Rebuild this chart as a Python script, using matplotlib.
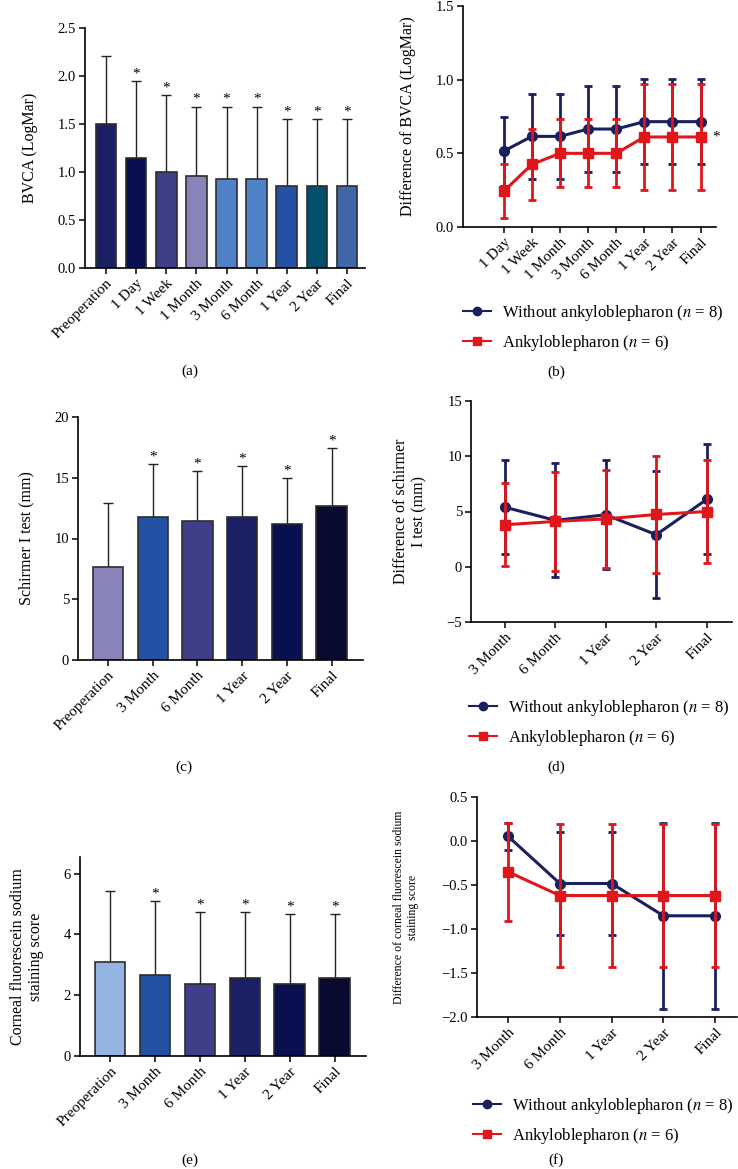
import numpy as np
import matplotlib
matplotlib.use('Agg')
import matplotlib.pyplot as plt
from matplotlib.lines import Line2D

plt.rcParams['font.family'] = ['Liberation Serif', 'DejaVu Serif']
plt.rcParams['mathtext.fontset'] = 'stix'

# ---- data ----
bvca_labels = ['Preoperation', '1 Day', '1 Week', '1 Month', '3 Month',
               '6 Month', '1 Year', '2 Year', 'Final']
bvca_mean = [1.50, 1.15, 1.00, 0.96, 0.93, 0.93, 0.85, 0.85, 0.85]
bvca_top = [2.21, 1.95, 1.80, 1.68, 1.68, 1.68, 1.55, 1.55, 1.55]
bvca_star = [False, True, True, True, True, True, True, True, True]

diff_bvca_labels = ['1 Day', '1 Week', '1 Month', '3 Month', '6 Month',
                    '1 Year', '2 Year', 'Final']
diff_bvca_blue = [0.515, 0.615, 0.615, 0.665, 0.665, 0.715, 0.715, 0.715]
diff_bvca_blue_sd = [0.235, 0.29, 0.29, 0.29, 0.29, 0.29, 0.29, 0.29]
diff_bvca_red = [0.243, 0.425, 0.50, 0.50, 0.50, 0.611, 0.611, 0.611]
diff_bvca_red_sd = [0.185, 0.24, 0.23, 0.23, 0.23, 0.357, 0.357, 0.357]

later_labels = ['Preoperation', '3 Month', '6 Month', '1 Year', '2 Year', 'Final']
schirmer_mean = [7.67, 11.8, 11.45, 11.8, 11.2, 12.7]
schirmer_top = [12.9, 16.15, 15.55, 15.95, 14.95, 17.45]
schirmer_star = [False, True, True, True, True, True]

diff_labels = ['3 Month', '6 Month', '1 Year', '2 Year', 'Final']
diff_sch_blue = [5.39, 4.2, 4.7, 2.9, 6.1]
diff_sch_blue_sd = [4.27, 5.15, 4.92, 5.75, 4.99]
diff_sch_red = [3.8, 4.1, 4.33, 4.73, 5.0]
diff_sch_red_sd = [3.77, 4.45, 4.43, 5.27, 4.7]

stain_mean = [3.08, 2.67, 2.37, 2.56, 2.37, 2.56]
stain_top = [5.42, 5.11, 4.74, 4.74, 4.68, 4.68]
stain_star = [False, True, True, True, True, True]

diff_st_blue = [0.053, -0.483, -0.483, -0.85, -0.85]
diff_st_blue_sd = [0.15, 0.59, 0.59, 1.06, 1.06]
diff_st_red = [-0.35, -0.62, -0.62, -0.62, -0.62]
diff_st_red_sd = [0.56, 0.81, 0.81, 0.81, 0.81]

# ---- styles ----
bvca_colors = ['#1b1f63', '#08104f', '#3e3f88', '#8883b9', '#4f82c6',
               '#4f82c6', '#2451a3', '#03506e', '#4068a8']
schirmer_colors = ['#8883b9', '#2451a3', '#3e3f88', '#1b1f63', '#08104f', '#080a30']
stain_colors = ['#94b5e0', '#2451a3', '#3e3f88', '#1b1f63', '#08104f', '#080a30']
BLUE = '#1a1f5e'
RED = '#e0161b'
W, H = 738, 1169

fig = plt.figure(figsize=(W / 100, H / 100), dpi=100)


def add_ax(left, right, top, bottom):
    return fig.add_axes([left / W, 1 - bottom / H, (right - left) / W, (bottom - top) / H])


def style(ax):
    for s in ['top', 'right']:
        ax.spines[s].set_visible(False)
    for s in ['left', 'bottom']:
        ax.spines[s].set_linewidth(1.2)
    ax.tick_params(direction='out', length=4, width=1.1, labelsize=10.5, pad=2.5)
    ax.tick_params(axis='x', labelsize=11)


def bar_panel(ax, labels, mean, top, star, colors, xlim, ylim, yticks, ylabel, ylsize=11.5, lp=14):
    x = np.arange(len(labels))
    err = np.array(top) - np.array(mean)
    ax.bar(x, mean, width=0.68, color=colors, edgecolor='#2e2e2e', linewidth=1.2, zorder=2)
    ax.errorbar(x, mean, yerr=[np.zeros(len(x)), err], fmt='none', ecolor='#222222',
                elinewidth=1.0, capsize=3.5, capthick=1.0, zorder=1)
    for xi, t, s in zip(x, top, star):
        if s:
            ax.text(xi, t + (ylim[1] - ylim[0]) * 0.003, '*', ha='center', va='bottom', fontsize=11)
    ax.set_xlim(xlim)
    ax.set_ylim(ylim)
    ax.set_yticks(yticks)
    ax.set_xticks(x)
    ax.set_xticklabels(labels, rotation=45, ha='right', rotation_mode='anchor')
    ax.set_ylabel(ylabel, fontsize=ylsize, labelpad=lp)
    style(ax)


def line_panel(ax, labels, blue, blue_sd, red, red_sd, xlim, ylim, yticks, ylabel, ylsize=11.5, lp=14):
    x = np.arange(len(labels))
    ax.errorbar(x, blue, yerr=blue_sd, color=BLUE, marker='o', markersize=7, linewidth=2.2,
                elinewidth=2, capsize=3, capthick=2, zorder=2, clip_on=False)
    ax.errorbar(x, red, yerr=red_sd, color=RED, marker='s', markersize=7, linewidth=2.2,
                elinewidth=2, capsize=3, capthick=2, zorder=3, clip_on=False)
    ax.set_xlim(xlim)
    ax.set_ylim(ylim)
    ax.set_yticks(yticks)
    ax.set_xticks(x)
    ax.set_xticklabels(labels, rotation=45, ha='right', rotation_mode='anchor')
    ax.set_ylabel(ylabel, fontsize=ylsize, labelpad=lp)
    style(ax)


def legend_at(x, y):
    handles = [Line2D([], [], color=BLUE, marker='o', markersize=6, linewidth=1.5),
               Line2D([], [], color=RED, marker='s', markersize=6, linewidth=1.5)]
    fig.legend(handles, ['Without ankyloblepharon ($n$ = 8)', 'Ankyloblepharon ($n$ = 6)'],
               loc='upper left', bbox_to_anchor=(x / W, 1 - y / H), frameon=False,
               fontsize=12, handlelength=1.7, labelspacing=0.6, borderaxespad=0,
               borderpad=0, handletextpad=0.65)


# (a)
ax = add_ax(85, 365, 28, 268)
bar_panel(ax, bvca_labels, bvca_mean, bvca_top, bvca_star, bvca_colors,
          (-0.7, 8.6), (0, 2.5), [0, 0.5, 1.0, 1.5, 2.0, 2.5], 'BVCA (LogMar)')
ax.set_yticklabels(['0.0', '0.5', '1.0', '1.5', '2.0', '2.5'])

# (b)
ax = add_ax(463, 716, 6, 227)
line_panel(ax, diff_bvca_labels, diff_bvca_blue, diff_bvca_blue_sd, diff_bvca_red,
           diff_bvca_red_sd, (-1.45, 7.55), (0, 1.5), [0, 0.5, 1.0, 1.5],
           'Difference of BVCA (LogMar)')
ax.set_yticklabels(['0.0', '0.5', '1.0', '1.5'])
ax.text(len(diff_bvca_labels) - 1 + 0.4, diff_bvca_red[-1], '*', ha='left', va='center', fontsize=11)
legend_at(463, 303)

# (c)
ax = add_ax(78, 363, 417, 660)
bar_panel(ax, later_labels, schirmer_mean, schirmer_top, schirmer_star, schirmer_colors,
          (-0.67, 5.7), (0, 20), [0, 5, 10, 15, 20], 'Schirmer I test (mm)')

# (d)
ax = add_ax(471, 732, 401, 622)
line_panel(ax, diff_labels, diff_sch_blue, diff_sch_blue_sd, diff_sch_red, diff_sch_red_sd,
           (-0.67, 4.5), (-5, 15), [-5, 0, 5, 10, 15], 'Difference of schirmer\nI test (mm)')
ax.set_yticklabels(['\u22125', '0', '5', '10', '15'])
legend_at(469, 698)

# (e)
ax = add_ax(80, 366, 857, 1056)
bar_panel(ax, later_labels, stain_mean, stain_top, stain_star, stain_colors,
          (-0.67, 5.7), (0, 6.55), [0, 2, 4, 6], 'Corneal fluorescein sodium\nstaining score')

# (f)
ax = add_ax(477, 737, 797, 1017)
line_panel(ax, diff_labels, diff_st_blue, diff_st_blue_sd, diff_st_red, diff_st_red_sd,
           (-0.6, 4.42), (-2.0, 0.5), [-2.0, -1.5, -1.0, -0.5, 0.0, 0.5],
           'Difference of corneal fluorescein sodium\nstaining score', ylsize=8.5, lp=16)
ax.set_yticklabels(['\u22122.0', '\u22121.5', '\u22121.0', '\u22120.5', '0.0', '0.5'])
legend_at(473, 1096)

# panel letters
for lab, (px, py) in zip(['(a)', '(b)', '(c)', '(d)', '(e)', '(f)'],
                         [(190, 371), (556, 372), (184, 767), (556, 767), (190, 1160), (556, 1160)]):
    fig.text(px / W, 1 - py / H, lab, ha='center', va='center', fontsize=11)

fig.savefig('out.png', dpi=100)
